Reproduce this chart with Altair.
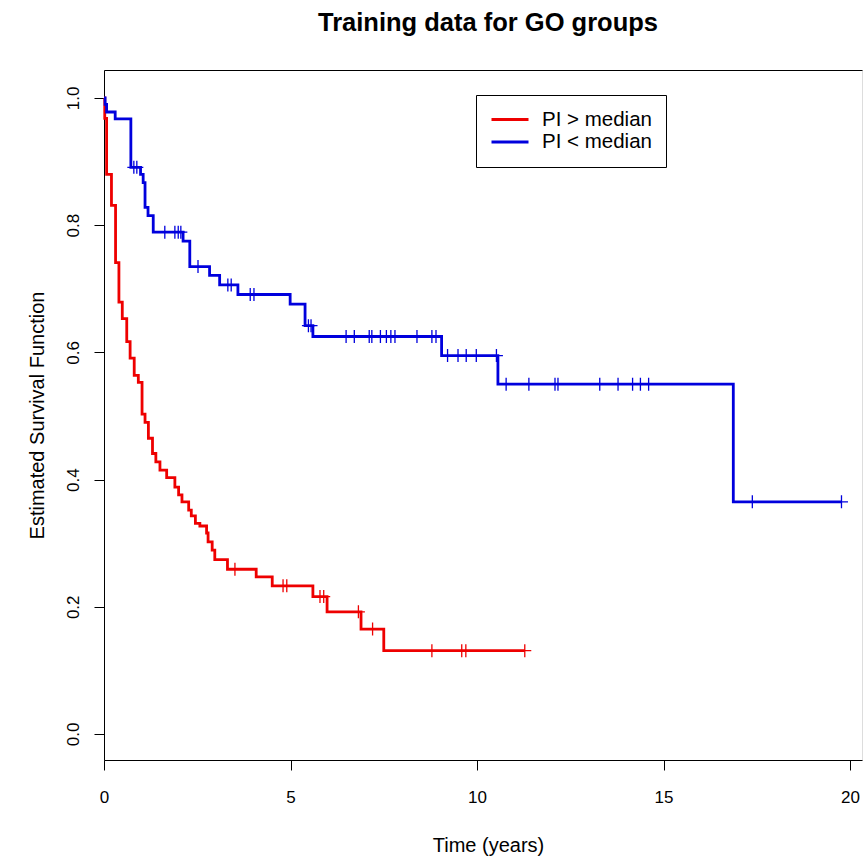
import altair as alt
import pandas as pd

# ---- Data ----
groups = ["PI > median", "PI < median"]
colors = ["#ee0000", "#0000dd"]

# PI > median (red) : step times and survival after each step
hi_time = [0, 0.02, 0.07, 0.20, 0.31, 0.40, 0.49, 0.61, 0.70, 0.81, 0.92, 1.02, 1.10,
           1.19, 1.30, 1.39, 1.50, 1.68, 1.90, 2.00, 2.09, 2.27, 2.34, 2.45, 2.57,
           2.75, 2.79, 2.90, 2.97, 3.31, 4.08, 4.51, 5.60, 5.98, 6.89, 7.50]
hi_surv = [1.0, 0.968, 0.880, 0.831, 0.741, 0.679, 0.653, 0.617, 0.591, 0.564, 0.553,
           0.503, 0.490, 0.465, 0.441, 0.428, 0.415, 0.403, 0.388, 0.376, 0.365, 0.352,
           0.343, 0.331, 0.327, 0.316, 0.302, 0.289, 0.274, 0.259, 0.247, 0.233, 0.216,
           0.192, 0.165, 0.131]
hi_cens = [3.51, 4.80, 4.90, 5.79, 5.89, 6.82, 7.20, 8.79, 9.59, 9.70, 11.28]

# PI < median (blue)
lo_time = [0, 0.03, 0.07, 0.30, 0.72, 0.98, 1.05, 1.10, 1.18, 1.32, 2.12, 2.30, 2.83,
           3.10, 3.59, 4.99, 5.39, 5.60, 9.05, 10.56, 16.87]
lo_surv = [1.0, 0.990, 0.978, 0.967, 0.891, 0.880, 0.867, 0.828, 0.815, 0.789, 0.775,
           0.735, 0.721, 0.706, 0.691, 0.676, 0.642, 0.625, 0.595, 0.550, 0.365]
lo_cens = [0.80, 0.88, 1.63, 1.90, 1.99, 2.06, 2.52, 3.32, 3.41, 3.92, 4.02, 5.48, 5.55,
           6.49, 6.71, 7.11, 7.18, 7.41, 7.57, 7.69, 7.80, 8.39, 8.79, 8.90, 9.21, 9.49,
           9.71, 9.98, 10.52, 10.78, 11.39, 12.09, 12.17, 13.29, 13.78, 14.17, 14.38,
           14.60, 17.38, 19.77]

x_ticks = [0, 5, 10, 15, 20]
y_ticks = [0.0, 0.2, 0.4, 0.6, 0.8, 1.0]


def surv_at(times, survs, t):
    s = survs[0]
    for ti, si in zip(times, survs):
        if ti <= t:
            s = si
    return s


line_rows, cens_rows = [], []
for g, times, survs, cens in [(groups[0], hi_time, hi_surv, hi_cens),
                              (groups[1], lo_time, lo_surv, lo_cens)]:
    k = 0
    for t, s in zip(times, survs):
        line_rows.append({"group": g, "time": t, "surv": s, "k": k})
        k += 1
    line_rows.append({"group": g, "time": cens[-1], "surv": survs[-1], "k": k})
    for c in cens:
        cens_rows.append({"group": g, "time": c, "surv": surv_at(times, survs, c)})

line_df = pd.DataFrame(line_rows)
cens_df = pd.DataFrame(cens_rows)

FONT = "Liberation Sans"

y_enc = alt.Y(
    "surv:Q",
    scale=alt.Scale(domain=[-0.0409, 1.044], nice=False, zero=False),
    axis=alt.Axis(
        values=y_ticks, format=".1f", grid=False, domain=True, domainColor="black",
        ticks=True, tickColor="black", tickSize=10, labelAngle=270,
        labelAlign="center", labelBaseline="middle", labelPadding=21,
        labelFont=FONT, labelFontSize=17, labelColor="black", labelFlush=False,
        labelOverlap=False, title="Estimated Survival Function", titleFont=FONT,
        titleFontSize=20, titleFontWeight="normal", titleColor="black",
        titleAngle=270, titleBaseline="middle", titleX=-67, titleY=345,
    ),
)
x_scale = alt.Scale(domain=[0, 20.32], nice=False, zero=False)

lines = alt.Chart(line_df).mark_line(interpolate="step-after", strokeWidth=2.8).encode(
    x=alt.X(
        "time:Q", scale=x_scale,
        axis=alt.Axis(
            orient="bottom", values=x_ticks, format="d", grid=False, domain=True,
            domainColor="black", tickColor="black", tickSize=10,
            labelBaseline="middle", labelPadding=27, labelFont=FONT,
            labelFontSize=17, labelColor="black", labelFlush=False,
            labelOverlap=False, title="Time (years)", titleFont=FONT,
            titleFontSize=20, titleFontWeight="normal", titleColor="black",
            titleBaseline="middle", titleX=384, titleY=85,
        ),
    ),
    y=y_enc,
    order="k:Q",
    color=alt.Color(
        "group:N", scale=alt.Scale(domain=groups, range=colors),
        legend=alt.Legend(
            orient="none", legendX=372, legendY=25, direction="vertical", title=None,
            labelFont=FONT, labelFontSize=20.5, labelColor="black",
            symbolType="stroke", symbolSize=1369, symbolStrokeWidth=3,
            strokeColor="black", fillColor="white", padding=14, labelOffset=12,
            cornerRadius=0, clipHeight=21, rowPadding=1.5,
        ),
    ),
)

cross = "M0,-1L0,1M-1,0L1,0"
marks = alt.Chart(cens_df).mark_point(
    shape=cross, filled=False, size=169, strokeWidth=1.3, opacity=1
).encode(
    x=alt.X(
        "time:Q", scale=x_scale,
        axis=alt.Axis(orient="top", labels=False, ticks=False, domain=True,
                      domainColor="black", grid=False, title=None),
    ),
    y=y_enc,
    stroke=alt.Stroke("group:N", scale=alt.Scale(domain=groups, range=colors),
                      legend=None),
)

chart = alt.layer(lines, marks).resolve_axis(x="independent").properties(
    width=758,
    height=690,
    title=alt.TitleParams(
        "Training data for GO groups", font=FONT, fontSize=25.5, fontWeight="bold",
        color="black", anchor="middle", baseline="alphabetic", offset=14, dx=5,
    ),
    autosize=alt.AutoSizeParams(type="none"),
    padding={"left": 104, "top": 70, "right": 1, "bottom": 98},
).configure_view(stroke=None).configure(background="white")

chart.save("out.html", embed_options={"renderer": "svg", "actions": False})
